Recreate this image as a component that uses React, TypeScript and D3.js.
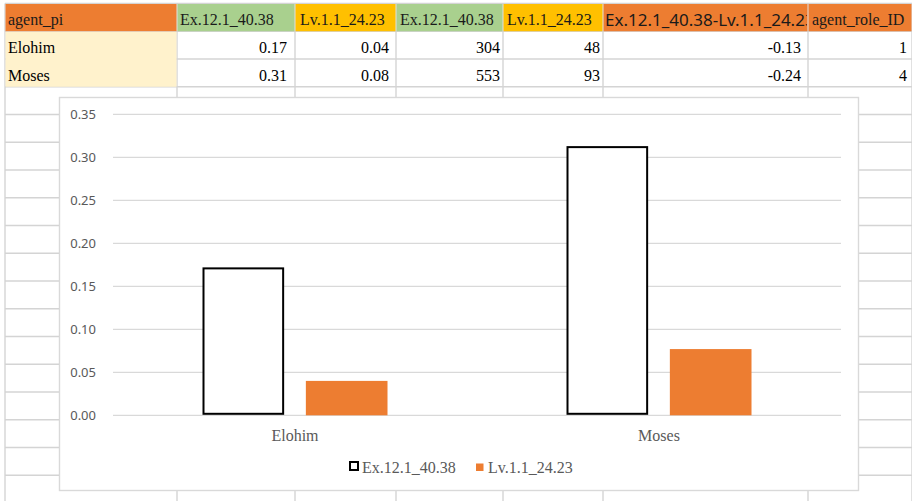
import React from "react";
import * as d3 from "d3";

// Table + chart data
const categories = ["Elohim", "Moses"];
const seriesNames = ["Ex.12.1_40.38", "Lv.1.1_24.23"];
const exShare = [0.172, 0.313];
const lvShare = [0.04, 0.077];
const exCount = [304, 553];
const lvCount = [48, 93];
const roleIds = [1, 4];
const headerLabels = [
  "agent_pi",
  "Ex.12.1_40.38",
  "Lv.1.1_24.23",
  "Ex.12.1_40.38",
  "Lv.1.1_24.23",
  "Ex.12.1_40.38-Lv.1.1_24.23",
  "agent_role_ID",
];
const yTicks = [0, 0.05, 0.1, 0.15, 0.2, 0.25, 0.3, 0.35];

// Sheet layout
const W = 912;
const H = 501;
const rowTop = 3.5;
const rowH = 27.75;
const colEdges = [5, 177, 295, 396, 503, 603, 808, 912];
const headerFills = ["#ED7D31", "#A9D08E", "#FFC000", "#A9D08E", "#FFC000", "#ED7D31", "#ED7D31"];
const headerPadLeft = [3, 3, 5, 4, 4, 2, 4];
const cellPadRight = [0, 8, 7, 3, 3, 7, 5];
const gridColor = "#D4D4D4";
const serif = "Liberation Serif, Tinos, Times New Roman, DejaVu Serif, serif";
const sans = "Noto Sans, Open Sans, sans-serif";

const fmt2 = (v: number) => d3.format(".2f")(v).replace("\u2212", "-");

export default function App() {
  const nRows = Math.ceil((H - rowTop) / rowH) + 1;
  const rowLines = d3.range(nRows).map((k) => rowTop + k * rowH);

  // Chart frame and plot area
  const chart = { x: 59.5, y: 97.5, w: 799, h: 393 };
  const x0 = d3.scaleBand<string>().domain(categories).range([113, 841]);
  const groupW = 185;
  const x1 = d3
    .scaleBand<string>()
    .domain(seriesNames)
    .range([(x0.bandwidth() - groupW) / 2, (x0.bandwidth() + groupW) / 2])
    .paddingInner(0.21);
  const y = d3.scaleLinear().domain([0, 0.35]).range([415.3, 114.3]);

  const dataRows = categories.map((c, i) => [
    c,
    fmt2(exShare[i]),
    fmt2(lvShare[i]),
    String(exCount[i]),
    String(lvCount[i]),
    fmt2(lvShare[i] - exShare[i]),
    String(roleIds[i]),
  ]);

  const serifStyle = { fontFamily: serif };
  const sansStyle = { fontFamily: sans };

  return (
    <svg
      width={W}
      height={H}
      style={{ position: "fixed", left: 0, top: 0, display: "block", background: "#fff" }}
    >
      <defs>
        {colEdges.slice(0, -1).map((x, j) => (
          <clipPath id={`col-${j}`} key={j}>
            <rect x={x} y={0} width={colEdges[j + 1] - x - 1} height={rowTop + rowH} />
          </clipPath>
        ))}
      </defs>

      {/* sheet grid */}
      {rowLines.map((ly, k) => (
        <line key={`h${k}`} x1={colEdges[0]} x2={W} y1={ly} y2={ly} stroke={gridColor} strokeWidth={1.4} />
      ))}
      {colEdges.map((x, j) => (
        <line key={`v${j}`} x1={x} x2={x} y1={rowTop} y2={H} stroke={gridColor} strokeWidth={1.4} />
      ))}

      {/* header cells */}
      {headerLabels.map((label, j) => {
        const x = colEdges[j];
        const wcell = colEdges[j + 1] - x;
        const isWide = j === 5;
        return (
          <g key={`hd${j}`}>
            <rect x={x + 0.5} y={rowTop + 0.5} width={wcell - 1} height={rowH - 0.5} fill={headerFills[j]} />
            <text
              x={x + headerPadLeft[j]}
              y={rowTop + (isWide ? 22.5 : 21.6)}
              style={isWide ? sansStyle : serifStyle}
              fontSize={isWide ? 17 : 16}
              fill="#1a1a1a"
              clipPath={`url(#col-${j})`}
            >
              {label}
            </text>
          </g>
        );
      })}

      {/* first column fill */}
      <rect
        x={colEdges[0] + 0.5}
        y={rowTop + rowH + 0.5}
        width={colEdges[1] - colEdges[0] - 1}
        height={rowH * 2 - 0.5}
        fill="#FFF2CC"
      />

      {/* data rows */}
      {dataRows.map((row, i) => {
        const base = rowTop + (i + 1) * rowH + 21.8;
        return (
          <g key={`r${i}`}>
            {row.map((val, j) =>
              j === 0 ? (
                <text key={j} x={colEdges[0] + 3} y={base} style={serifStyle} fontSize={16} fill="#000">
                  {val}
                </text>
              ) : (
                <text
                  key={j}
                  x={colEdges[j + 1] - cellPadRight[j]}
                  y={base}
                  textAnchor="end"
                  style={serifStyle}
                  fontSize={16}
                  fill="#000"
                >
                  {val}
                </text>
              )
            )}
          </g>
        );
      })}

      {/* embedded chart */}
      <rect x={chart.x} y={chart.y} width={chart.w} height={chart.h} fill="#fff" stroke="#D9D9D9" strokeWidth={1.4} />

      {yTicks.map((t) => (
        <g key={`yt${t}`}>
          <line x1={113} x2={841} y1={y(t)} y2={y(t)} stroke="#D9D9D9" strokeWidth={1.3} />
          <text x={96} y={y(t) + 4.6} textAnchor="end" style={sansStyle} fontSize={13} fill="#595959">
            {t.toFixed(2)}
          </text>
        </g>
      ))}

      {categories.map((c, i) => {
        const gx = x0(c) ?? 0;
        const exX = gx + (x1(seriesNames[0]) ?? 0);
        const lvX = gx + (x1(seriesNames[1]) ?? 0);
        const bw = x1.bandwidth();
        return (
          <g key={`bar${c}`}>
            <rect
              x={exX + 1}
              y={y(exShare[i]) + 1}
              width={bw - 2}
              height={y(0) - 1.5 - (y(exShare[i]) + 1)}
              fill="#fff"
              stroke="#000"
              strokeWidth={2}
            />
            <rect x={lvX} y={y(lvShare[i])} width={bw} height={y(0) - y(lvShare[i])} fill="#ED7D31" />
            <text
              x={gx + x0.bandwidth() / 2}
              y={441}
              textAnchor="middle"
              style={serifStyle}
              fontSize={16}
              fill="#595959"
            >
              {c}
            </text>
          </g>
        );
      })}

      {/* legend */}
      <rect x={350} y={462} width={8} height={8} fill="#fff" stroke="#000" strokeWidth={2} />
      <text x={362} y={473} style={serifStyle} fontSize={16} fill="#595959">
        {seriesNames[0]}
      </text>
      <rect x={476} y={463.5} width={7.5} height={7.5} fill="#ED7D31" />
      <text x={488} y={473} style={serifStyle} fontSize={16} fill="#595959">
        {seriesNames[1]}
      </text>
    </svg>
  );
}
